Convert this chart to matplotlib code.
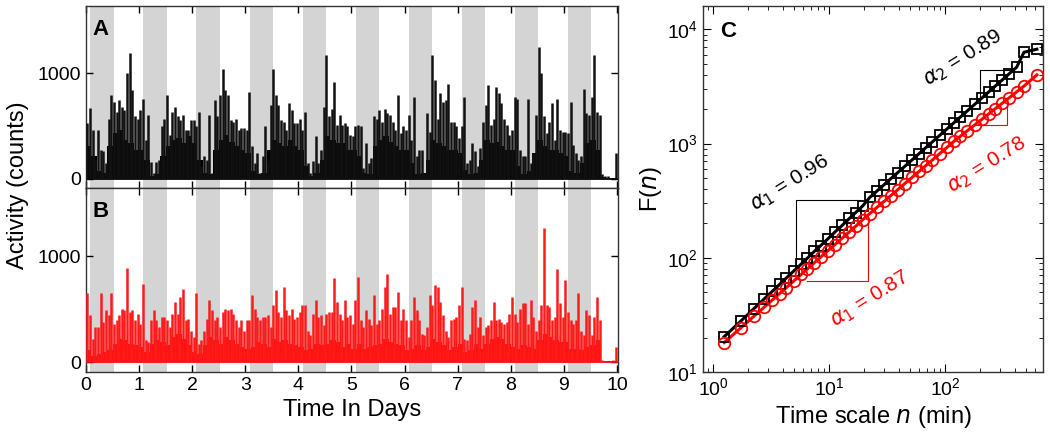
import numpy as np
import matplotlib.pyplot as plt

plt.rcParams['font.family'] = ['Liberation Sans', 'DejaVu Sans']
plt.rcParams['mathtext.fontset'] = 'dejavusans'

# activity (counts), peak value in each 0.05-day bin, panel A (black)
a_peak = [525, 667, 460, 180, 460, 275, 258, 150, 570, 790,
          730, 635, 745, 680, 650, 1000, 1190, 840, 590, 570,
          650, 757, 370, 600, 160, 50, 160, 180, 500, 570,
          790, 415, 635, 680, 590, 555, 605, 460, 460, 555,
          555, 495, 635, 115, 210, 180, 605, 50, 745, 590,
          790, 1040, 845, 790, 555, 540, 570, 460, 480, 480,
          460, 825, 305, 150, 240, 55, 210, 495, 180, 700,
          1045, 790, 700, 555, 540, 460, 715, 650, 525, 525,
          570, 460, 635, 150, 55, 165, 400, 150, 275, 680,
          1170, 590, 665, 920, 510, 605, 510, 525, 495, 415,
          400, 495, 510, 495, 100, 335, 150, 195, 590, 570,
          650, 540, 665, 620, 605, 540, 460, 790, 430, 495,
          460, 605, 370, 775, 210, 275, 275, 55, 620, 445,
          1170, 935, 570, 810, 730, 745, 900, 540, 540, 495,
          385, 495, 775, 150, 180, 335, 260, 115, 290, 540,
          700, 885, 510, 570, 870, 810, 715, 570, 510, 415,
          460, 775, 760, 275, 210, 210, 760, 150, 240, 605,
          1250, 1000, 590, 430, 540, 715, 370, 760, 460, 445,
          445, 430, 730, 320, 240, 180, 210, 855, 620, 605,
          775, 1170, 635, 605, 40, 20, 20, 5, 5, 240]

# dense activity level in each 0.1-day bin, panel A
a_body = [305, 210, 70, 55, 305, 430, 460, 370, 335, 275,
          275, 180, 20, 40, 210, 305, 370, 385, 335, 400,
          335, 180, 55, 40, 275, 370, 415, 350, 305, 275,
          240, 70, 40, 55, 275, 370, 335, 305, 370, 305,
          275, 115, 20, 55, 180, 400, 370, 335, 335, 275,
          275, 210, 55, 40, 305, 370, 400, 350, 305, 275,
          275, 150, 40, 55, 180, 370, 335, 305, 275, 275,
          240, 85, 40, 55, 180, 370, 335, 350, 305, 275,
          275, 115, 40, 70, 240, 370, 305, 275, 275, 240,
          210, 70, 55, 150, 335, 370, 275, 10, 5, 5]

# panel B (red)
b_peak = [655, 450, 225, 335, 335, 655, 380, 490, 445, 655,
          365, 395, 445, 505, 490, 885, 475, 490, 395, 460,
          365, 740, 210, 190, 395, 490, 395, 335, 430, 430,
          395, 335, 460, 570, 460, 615, 695, 395, 410, 300,
          240, 650, 175, 210, 300, 410, 585, 490, 395, 430,
          335, 475, 505, 490, 505, 460, 395, 335, 395, 300,
          395, 395, 630, 505, 430, 395, 430, 430, 445, 335,
          540, 685, 475, 430, 710, 490, 445, 505, 410, 430,
          475, 540, 540, 300, 255, 460, 585, 430, 445, 350,
          460, 475, 475, 790, 570, 460, 395, 585, 430, 445,
          365, 585, 800, 395, 335, 490, 410, 350, 630, 365,
          395, 505, 710, 830, 460, 520, 520, 665, 395, 505,
          395, 240, 395, 615, 490, 395, 270, 255, 335, 630,
          540, 725, 710, 570, 445, 300, 240, 395, 410, 430,
          540, 710, 225, 210, 270, 520, 585, 335, 430, 255,
          335, 350, 395, 570, 395, 410, 380, 365, 380, 460,
          615, 460, 380, 505, 555, 555, 365, 585, 430, 300,
          395, 540, 1260, 540, 520, 395, 430, 875, 555, 430,
          775, 475, 395, 365, 395, 650, 300, 255, 490, 445,
          255, 430, 615, 395, 20, 10, 10, 10, 20, 145]

b_body = [115, 65, 80, 100, 115, 175, 225, 210, 175, 160,
          145, 100, 175, 210, 190, 160, 240, 270, 225, 160,
          100, 80, 160, 240, 210, 175, 240, 210, 175, 145,
          130, 145, 190, 175, 145, 225, 190, 210, 175, 160,
          145, 115, 130, 175, 160, 175, 210, 190, 145, 175,
          130, 175, 130, 145, 160, 175, 225, 190, 175, 160,
          115, 130, 160, 115, 145, 225, 190, 160, 115, 145,
          175, 100, 115, 175, 130, 175, 225, 240, 225, 175,
          145, 130, 160, 145, 130, 210, 270, 240, 210, 190,
          190, 130, 130, 115, 145, 160, 210, 10, 10, 10]

# fluctuation function F(n) vs time scale n (min)
n_scale = [1.25, 1.75, 2.25, 2.75, 3.25, 3.75, 4.25, 5.0, 5.75, 6.5,
           7.5, 8.5, 9.75, 11.25, 13.0, 15.0, 17.0, 19.5, 22.5, 26.0,
           30.0, 34.0, 39.0, 45.0, 52.0, 60.0, 68.0, 78.0, 90.0, 104.0,
           120.0, 136.0, 156.0, 180.0, 208.0, 240.0, 272.0, 312.0, 360.0, 416.0,
           480.0, 620.0]
f_black = [20.4, 28.1, 35.8, 43.4, 50.9, 58.4, 65.9, 77, 88, 99,
           114, 128, 146, 168, 192, 221, 249, 284, 338, 385,
           438, 491, 555, 631, 719, 818, 916, 1036, 1178, 1342,
           1527, 1709, 1933, 2199, 2504, 2849, 3188, 3607, 4103, 4673,
           6300, 6700]
f_red = [18.1, 24.5, 30.7, 36.8, 42.7, 48.6, 54.4, 62.9, 71.4, 79.7,
         90.7, 101.5, 114.8, 130.5, 148.7, 169, 189, 215, 244, 277,
         313, 349, 393, 446, 505, 572, 638, 719, 815, 924,
         1050, 1160, 1295, 1452, 1630, 1828, 2020, 2255, 2528, 2838,
         3183, 3990]

nights = range(10)


fig = plt.figure(figsize=(10.5, 4.46), dpi=100)
axA = fig.add_axes([0.0819, 0.5785, 0.5067, 0.408])
axB = fig.add_axes([0.0819, 0.1659, 0.5067, 0.4126])
axC = fig.add_axes([0.6695, 0.1659, 0.3238, 0.8206])


def activity_panel(ax, peak, body, col, spike_col, label):
    for d in nights:
        ax.axvspan(d + 0.08, d + 0.52, color='#d4d4d4', lw=0, zorder=0)
    xb = np.arange(len(body)) * 0.1
    ax.bar(xb, body, width=0.1, align='edge', color=col, lw=0, zorder=2)
    xp = np.arange(len(peak)) * 0.05 + 0.025
    ax.vlines(xp, 0, peak, color=spike_col, lw=1.8, zorder=3)
    ax.axhline(0, color=col, lw=1.2, zorder=2)
    ax.set_xlim(0, 10.02)
    ax.set_ylim(-90, 1640)
    ax.set_yticks([0, 1000])
    ax.set_xticks(range(11))
    ax.tick_params(direction='in', top=True, right=True, length=5,
                   labelsize=14, width=1)
    for s in ax.spines.values():
        s.set_linewidth(1.0)
        s.set_color('#333333')
    ax.text(0.013, 0.93, label, transform=ax.transAxes, fontsize=16,
            fontweight='bold', va='top', ha='left')


activity_panel(axA, a_peak, a_body, 'black', '#111111', 'A')
activity_panel(axB, b_peak, b_body, '#ff0000', '#ff1a1a', 'B')
axA.tick_params(labelbottom=False)
axB.set_xlabel('Time In Days', fontsize=17, labelpad=4)
fig.text(0.017, 1 - 185 / 446, 'Activity (counts)', rotation=90,
         fontsize=17, ha='center', va='center')

# DFA panel
axC.plot(n_scale, f_black, '-', color='black', lw=2.2, zorder=3)
axC.plot(n_scale, f_black, 's', mfc='none', mec='black', ms=7, mew=1.3, zorder=4)
axC.plot(n_scale, f_red, '-', color='#ff0000', lw=2.2, zorder=3)
axC.plot(n_scale, f_red, 'o', mfc='none', mec='#ff0000', ms=8.3, mew=1.3, zorder=4)
axC.set_xscale('log')
axC.set_yscale('log')
axC.set_xlim(0.82, 700)
axC.set_ylim(10, 16000)
axC.tick_params(which='both', direction='in', top=True, right=True, labelsize=14)
axC.tick_params(which='major', length=6)
axC.tick_params(which='minor', length=3)
for s in axC.spines.values():
    s.set_linewidth(1.0)
    s.set_color('#333333')
axC.set_xlabel('Time scale $\\it{n}$ (min)', fontsize=17, labelpad=4)
axC.set_ylabel('F($\\it{n}$)', fontsize=17, labelpad=2)
axC.text(0.05, 0.96, 'C', transform=axC.transAxes, fontsize=16,
         fontweight='bold', va='top', ha='left')

# slope triangles
axC.plot([5.2, 5.2, 18.6], [84, 320, 320], color='black', lw=0.8, zorder=2)
axC.plot([6.5, 21.7, 21.7], [63, 63, 208], color='#ff0000', lw=0.8, zorder=2)
axC.plot([200, 200, 380], [2420, 4400, 4400], color='black', lw=0.8, zorder=2)
axC.plot([180, 343, 343], [1455, 1455, 2300], color='#ff0000', lw=0.8, zorder=2)

axC.text(4.64, 453, '$\\alpha_1$ = 0.96', rotation=32, fontsize=15,
         ha='center', va='center', color='black')
axC.text(144, 5620, '$\\alpha_2$ = 0.89', rotation=32, fontsize=15,
         ha='center', va='center', color='black')
axC.text(232, 652, '$\\alpha_2$ = 0.78', rotation=32, fontsize=15,
         ha='center', va='center', color='#ff0000')
axC.text(22.7, 43, '$\\alpha_1$ = 0.87', rotation=32, fontsize=15,
         ha='center', va='center', color='#ff0000')

fig.savefig('out.png', dpi=100)
